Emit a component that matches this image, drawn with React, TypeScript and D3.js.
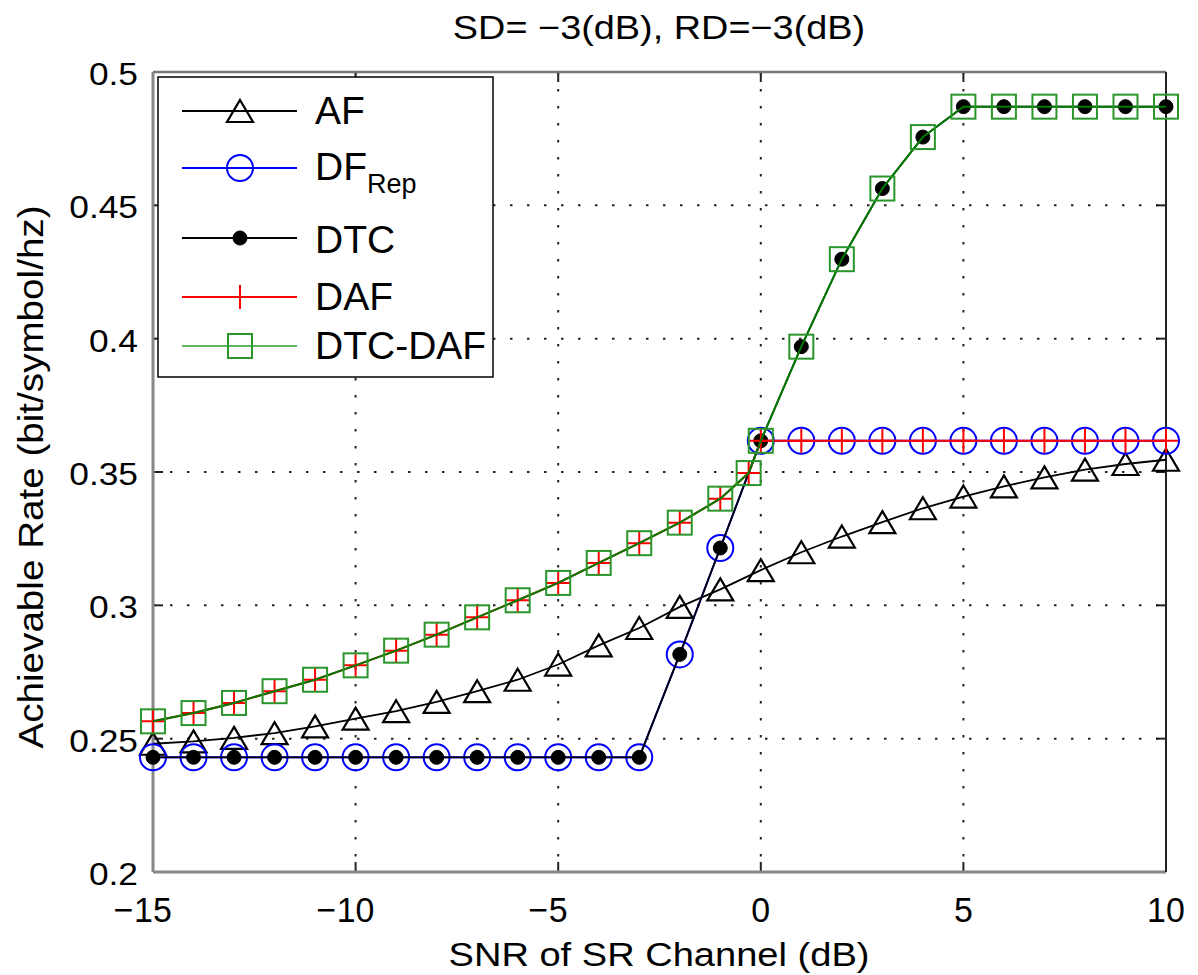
import React from "react";
import * as d3 from "d3";

const xBase = [-15,-14,-13,-12,-11,-10,-9,-8,-7,-6,-5,-4,-3,-2,-1,0,1,2,3,4,5,6,7,8,9,10];
const xDaf = [-15,-14,-13,-12,-11,-10,-9,-8,-7,-6,-5,-4,-3,-2,-1,-0.3,0,1,2,3,4,5,6,7,8,9,10];

const afVals = [0.2481,0.2490,0.2503,0.2521,0.2546,0.2575,0.2603,0.2638,0.2678,0.2721,0.2778,0.2850,0.2915,0.2994,0.3060,0.3132,0.3199,0.3258,0.3312,0.3364,0.3408,0.3446,0.3480,0.3509,0.3530,0.3546];
const dfRepVals = [0.2430,0.2430,0.2430,0.2430,0.2430,0.2430,0.2430,0.2430,0.2430,0.2430,0.2430,0.2430,0.2430,0.2816,0.3215,0.3617,0.3617,0.3617,0.3617,0.3617,0.3617,0.3617,0.3617,0.3617,0.3617,0.3617];
const dtcVals = [0.2430,0.2430,0.2430,0.2430,0.2430,0.2430,0.2430,0.2430,0.2430,0.2430,0.2430,0.2430,0.2430,0.2816,0.3215,0.3617,0.3970,0.4298,0.4563,0.4756,0.4870,0.4870,0.4870,0.4870,0.4870,0.4870];
const dafVals = [0.2565,0.2596,0.2634,0.2678,0.2721,0.2775,0.2830,0.2890,0.2955,0.3019,0.3084,0.3159,0.3233,0.3310,0.3400,0.3496,0.3617,0.3617,0.3617,0.3617,0.3617,0.3617,0.3617,0.3617,0.3617,0.3617,0.3617];
const dtcDafVals = [0.2565,0.2596,0.2634,0.2678,0.2721,0.2775,0.2830,0.2890,0.2955,0.3019,0.3084,0.3159,0.3233,0.3310,0.3400,0.3496,0.3617,0.3970,0.4298,0.4563,0.4756,0.4870,0.4870,0.4870,0.4870,0.4870,0.4870];

const xTicks = [-15,-10,-5,0,5,10];
const yTicks = [0.2,0.25,0.3,0.35,0.4,0.45,0.5];
const yTickLabels = ["0.2","0.25","0.3","0.35","0.4","0.45","0.5"];

const titleText = "SD= \u22123(dB), RD=\u22123(dB)";
const xLabel = "SNR of SR Channel (dB)";
const yLabel = "Achievable Rate (bit/symbol/hz)";

const W = 1198, H = 975;
const L = 153, R = 1166, T = 72, B = 872;
const FONT = "'Liberation Sans', Arial, Helvetica, sans-serif";

type Kind = "tri" | "circ" | "dot" | "plus" | "sq";

function Marker({ kind, x, y, color }: { kind: Kind; x: number; y: number; color: string }) {
  if (kind === "tri") {
    return <path d={`M${x},${y - 11}L${x + 13},${y + 11}L${x - 13},${y + 11}Z`} fill="none" stroke={color} strokeWidth={2.2} />;
  }
  if (kind === "circ") return <circle cx={x} cy={y} r={13} fill="none" stroke={color} strokeWidth={2} />;
  if (kind === "dot") return <circle cx={x} cy={y} r={7} fill={color} stroke={color} strokeWidth={1} />;
  if (kind === "plus") {
    return <path d={`M${x - 12},${y}H${x + 12}M${x},${y - 12}V${y + 12}`} stroke={color} strokeWidth={2} fill="none" />;
  }
  return <rect x={x - 12} y={y - 12} width={24} height={24} fill="none" stroke={color} strokeWidth={2} />;
}

function STxt({ x, y, size, anchor, children, rotate, sx }: any) {
  const s = sx || 1;
  const tr = rotate ? `translate(${x},${y}) rotate(-90) scale(${s},1)` : `translate(${x},${y}) scale(${s},1)`;
  return (
    <text transform={tr} fontSize={size} fontFamily={FONT} textAnchor={anchor || "start"} fill="#000">
      {children}
    </text>
  );
}

export default function App() {
  const xs = d3.scaleLinear().domain([-15, 10]).range([L, R]);
  const ys = d3.scaleLinear().domain([0.2, 0.5]).range([B, T]);

  const series = [
    { name: "AF", xsD: xBase, vals: afVals, line: "#000", mk: "#000", kind: "tri" as Kind, lw: 1.8 },
    { name: "DF", xsD: xBase, vals: dfRepVals, line: "#0000ff", mk: "#0000ff", kind: "circ" as Kind, lw: 2 },
    { name: "DTC", xsD: xBase, vals: dtcVals, line: "#000", mk: "#000", kind: "dot" as Kind, lw: 1.8 },
    { name: "DAF", xsD: xDaf, vals: dafVals, line: "#ff0000", mk: "#ff0000", kind: "plus" as Kind, lw: 2 },
    { name: "DTC-DAF", xsD: xDaf, vals: dtcDafVals, line: "#007a00", mk: "#2a952a", kind: "sq" as Kind, lw: 2 },
  ];

  const lineGen = d3.line<[number, number]>().x((d) => xs(d[0])).y((d) => ys(d[1]));

  const legendRows = [
    { y: 111, s: series[0], label: "AF", lineColor: "#000" },
    { y: 168, s: series[1], label: "DF", lineColor: "#0000ff" },
    { y: 238, s: series[2], label: "DTC", lineColor: "#000" },
    { y: 297, s: series[3], label: "DAF", lineColor: "#ff0000" },
    { y: 346, s: series[4], label: "DTC-DAF", lineColor: "#5cb85c" },
  ];

  const xTickSize = 35;
  const xTickSX = 0.97;
  const digitW = 0.556 * xTickSize * xTickSX;

  return (
    <svg width={W} height={H} style={{ display: "block", position: "absolute", left: 0, top: 0, background: "#fff" }}>
      <rect x={0} y={0} width={W} height={H} fill="#fff" />
      {/* grid */}
      {xTicks.slice(1, -1).map((t) => (
        <line key={"gx" + t} x1={xs(t)} x2={xs(t)} y1={T} y2={B} stroke="#222" strokeWidth={2} strokeDasharray="2.5,14.5" />
      ))}
      {yTicks.slice(1, -1).map((t) => (
        <line key={"gy" + t} x1={L} x2={R} y1={ys(t)} y2={ys(t)} stroke="#222" strokeWidth={2} strokeDasharray="2.5,14.5" />
      ))}
      {/* ticks */}
      {xTicks.map((t) => (
        <g key={"tx" + t}>
          <line x1={xs(t)} x2={xs(t)} y1={B} y2={B - 10} stroke="#222" strokeWidth={2} />
          <line x1={xs(t)} x2={xs(t)} y1={T} y2={T + 10} stroke="#222" strokeWidth={2} />
        </g>
      ))}
      {yTicks.map((t) => (
        <g key={"ty" + t}>
          <line x1={L} x2={L + 10} y1={ys(t)} y2={ys(t)} stroke="#222" strokeWidth={2} />
          <line x1={R} x2={R - 10} y1={ys(t)} y2={ys(t)} stroke="#222" strokeWidth={2} />
        </g>
      ))}
      {/* frame */}
      <line x1={L} x2={R} y1={T} y2={T} stroke="#777" strokeWidth={2.5} />
      <line x1={L} x2={L} y1={T} y2={B} stroke="#888" strokeWidth={3} />
      <line x1={L} x2={R} y1={B} y2={B} stroke="#888" strokeWidth={3} />
      <line x1={R} x2={R} y1={T} y2={B} stroke="#222" strokeWidth={2} />

      {/* series */}
      {series.map((s) => {
        const pts = s.xsD.map((x, i) => [x, s.vals[i]] as [number, number]);
        return (
          <g key={s.name}>
            <path d={lineGen(pts) || ""} fill="none" stroke={s.line} strokeWidth={s.lw} />
            {pts.map((p, i) => (
              <Marker key={i} kind={s.kind} x={xs(p[0])} y={ys(p[1])} color={s.mk} />
            ))}
          </g>
        );
      })}

      {/* x tick labels: centered on the digits, minus sign placed before */}
      {xTicks.map((t) => {
        const digits = String(Math.abs(t));
        const half = (digits.length * digitW) / 2;
        return (
          <g key={"xl" + t}>
            <STxt x={xs(t)} y={922} size={xTickSize} sx={xTickSX} anchor="middle">{digits}</STxt>
            {t < 0 && (
              <STxt x={xs(t) - half - 1} y={922} size={xTickSize} sx={xTickSX} anchor="end">{"\u2212"}</STxt>
            )}
          </g>
        );
      })}
      {yTicks.map((t, i) => (
        <STxt key={"yl" + t} x={138} y={ys(t) + 13} size={31} sx={1.14} anchor="end">{yTickLabels[i]}</STxt>
      ))}

      {/* title & labels */}
      <STxt x={659} y={39} size={33.5} sx={1.13} anchor="middle">{titleText}</STxt>
      <STxt x={659} y={966} size={34} sx={1.12} anchor="middle">{xLabel}</STxt>
      <STxt x={43} y={477} size={34.5} sx={1.12} anchor="middle" rotate>{yLabel}</STxt>

      {/* legend */}
      <rect x={158} y={77} width={335} height={300} fill="#fff" stroke="#000" strokeWidth={1.5} />
      {legendRows.map((r) => (
        <g key={r.label}>
          <line x1={182} x2={297} y1={r.y} y2={r.y} stroke={r.lineColor} strokeWidth={2} />
          <Marker kind={r.s.kind} x={240} y={r.y} color={r.s.mk} />
        </g>
      ))}
      <STxt x={315} y={124} size={39}>AF</STxt>
      <text transform="translate(315,180)" fontSize={39} fontFamily={FONT} fill="#000">
        DF<tspan fontSize={27} dy={13}>Rep</tspan>
      </text>
      <STxt x={315} y={253} size={39}>DTC</STxt>
      <STxt x={315} y={310} size={39}>DAF</STxt>
      <STxt x={315} y={359} size={39}>DTC-DAF</STxt>
    </svg>
  );
}
